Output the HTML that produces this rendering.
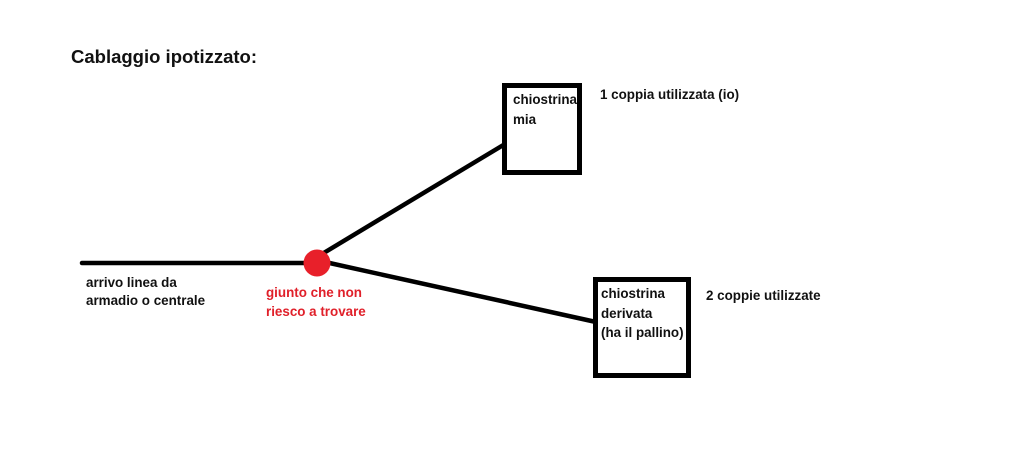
<!DOCTYPE html>
<html><head><meta charset="utf-8"><style>
body{margin:0;background:#fff;width:1024px;height:452px;overflow:hidden}
svg text{font-family:"Liberation Sans",sans-serif;font-weight:bold;font-size:13.4px;fill:#111}
</style></head><body>
<svg width="1024" height="452" viewBox="0 0 1024 452">
<text x="71" y="63" style="font-size:18.5px">Cablaggio ipotizzato:</text>
<line x1="82" y1="263" x2="310" y2="263" stroke="#000" stroke-width="4.5" stroke-linecap="round"/>
<line x1="322" y1="254" x2="505" y2="144" stroke="#000" stroke-width="4.5"/>
<line x1="325" y1="262" x2="596" y2="322" stroke="#000" stroke-width="4.5"/>
<circle cx="317" cy="263" r="13.5" fill="#e8202a"/>
<rect x="504.5" y="85.5" width="75" height="87" fill="none" stroke="#000" stroke-width="5"/>
<rect x="595.5" y="279.5" width="93" height="96" fill="none" stroke="#000" stroke-width="5"/>
<text x="513" y="104">chiostrina</text>
<text x="513" y="124">mia</text>
<text x="600" y="99">1 coppia utilizzata (io)</text>
<text x="601" y="298">chiostrina</text>
<text x="601" y="318">derivata</text>
<text x="601" y="337">(ha il pallino)</text>
<text x="706" y="300">2 coppie utilizzate</text>
<text x="86" y="287">arrivo linea da</text>
<text x="86" y="305">armadio o centrale</text>
<text x="266" y="297" style="fill:#e0202a">giunto che non</text>
<text x="266" y="316" style="fill:#e0202a">riesco a trovare</text>
</svg>
</body></html>
